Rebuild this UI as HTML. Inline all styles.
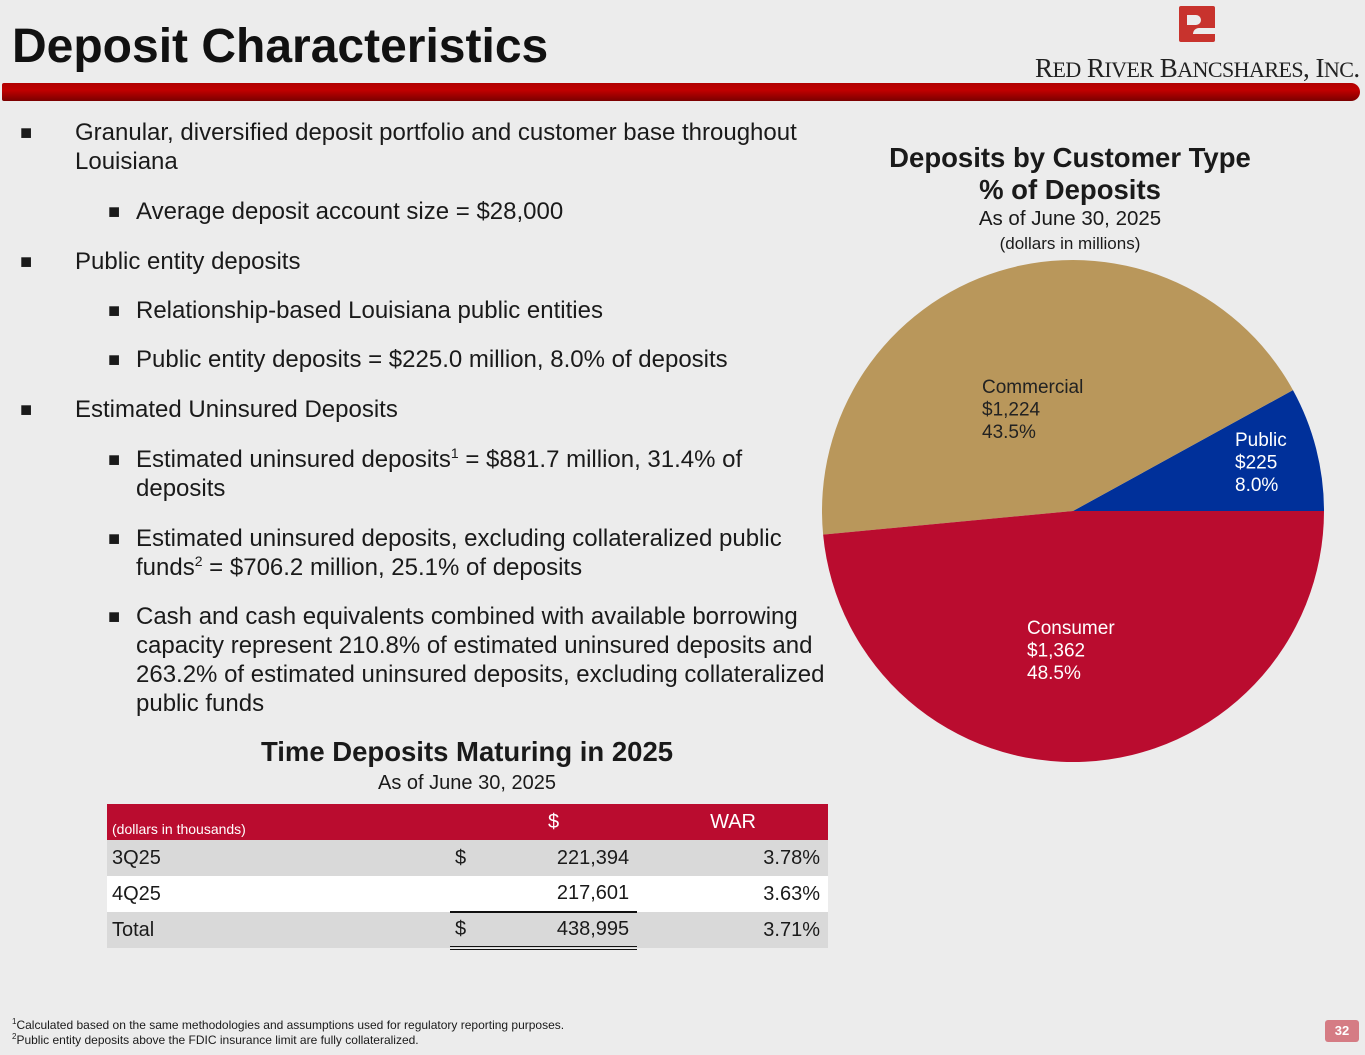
<!DOCTYPE html>
<html><head><meta charset="utf-8"><style>
body{margin:0;width:1365px;height:1055px;background:#ececec;font-family:"Liberation Sans",Arial,sans-serif;position:relative;overflow:hidden;color:#1a1a1a}
.a{position:absolute;white-space:nowrap}
.t{font-size:24px;line-height:26px}
td{padding:0 8px 0 5px;font-size:20px;height:36px;box-sizing:border-box}
</style></head><body>
<div class="a" style="left:12px;top:19px;font-size:48px;font-weight:bold;color:#111">Deposit Characteristics</div>
<div class="a" style="left:1179px;top:6px;width:36px;height:36px;background:#c8332d;border-radius:2px"><div style="position:absolute;left:8px;top:9px;width:14px;height:10px;background:#ececec;border-radius:0 6px 6px 0"></div><div style="position:absolute;left:14px;top:22px;width:22px;height:6px;background:#ececec;border-radius:6px 0 0 0"></div></div>
<div class="a" style="left:1035px;top:53px;font-family:'Liberation Serif',serif;font-size:27px;color:#222;letter-spacing:-0.55px">R<span style="font-size:22px">ED</span> R<span style="font-size:22px">IVER</span> B<span style="font-size:22px">ANCSHARES</span>, I<span style="font-size:22px">NC</span>.</div>
<div class="a" style="left:2px;top:83px;width:1358px;height:18px;background:linear-gradient(#b00000,#c00000 40%,#7a0000);border-radius:2px 9px 9px 2px"></div>

<div>
<div class="a t" style="left:20px;top:120px;font-size:20px">■</div><div class="a t" style="left:75px;top:120px">Granular, diversified deposit portfolio and customer base throughout</div>
<div class="a t" style="left:75px;top:149px">Louisiana</div>
<div class="a t" style="left:108px;top:199px;font-size:20px">■</div><div class="a t" style="left:136px;top:199px">Average deposit account size = $28,000</div>
<div class="a t" style="left:20px;top:249px;font-size:20px">■</div><div class="a t" style="left:75px;top:249px">Public entity deposits</div>
<div class="a t" style="left:108px;top:298px;font-size:20px">■</div><div class="a t" style="left:136px;top:298px">Relationship-based Louisiana public entities</div>
<div class="a t" style="left:108px;top:347px;font-size:20px">■</div><div class="a t" style="left:136px;top:347px">Public entity deposits = $225.0 million, 8.0% of deposits</div>
<div class="a t" style="left:20px;top:397px;font-size:20px">■</div><div class="a t" style="left:75px;top:397px">Estimated Uninsured Deposits</div>
<div class="a t" style="left:108px;top:447px;font-size:20px">■</div><div class="a t" style="left:136px;top:447px">Estimated uninsured deposits<sup style="font-size:14px;line-height:0">1</sup> = $881.7 million, 31.4% of</div>
<div class="a t" style="left:136px;top:476px">deposits</div>
<div class="a t" style="left:108px;top:526px;font-size:20px">■</div><div class="a t" style="left:136px;top:526px">Estimated uninsured deposits, excluding collateralized public</div>
<div class="a t" style="left:136px;top:555px">funds<sup style="font-size:14px;line-height:0">2</sup> = $706.2 million, 25.1% of deposits</div>
<div class="a t" style="left:108px;top:604px;font-size:20px">■</div><div class="a t" style="left:136px;top:604px">Cash and cash equivalents combined with available borrowing</div>
<div class="a t" style="left:136px;top:633px">capacity represent 210.8% of estimated uninsured deposits and</div>
<div class="a t" style="left:136px;top:662px">263.2% of estimated uninsured deposits, excluding collateralized</div>
<div class="a t" style="left:136px;top:691px">public funds</div>
</div>

<div class="a" style="left:107px;width:720px;top:736px;text-align:center;font-size:27.5px;font-weight:bold">Time Deposits Maturing in 2025</div>
<div class="a" style="left:107px;width:720px;top:772px;text-align:center;font-size:20px">As of June 30, 2025</div>
<table class="a" style="left:107px;top:804px;width:721px;border-collapse:collapse">
<tr style="background:#ba0c2f;color:#fff"><td style="font-size:14px;vertical-align:bottom;padding-bottom:3px">(dollars in thousands)</td><td></td><td style="text-align:right;padding-right:78px">$</td><td style="text-align:right;padding-right:72px">WAR</td></tr>
<tr style="background:#d9d9d9"><td style="width:343px">3Q25</td><td style="width:10px">$</td><td style="text-align:right;width:163px">221,394</td><td style="text-align:right">3.78%</td></tr>
<tr style="background:#fff"><td>4Q25</td><td style="border-bottom:2px solid #111"></td><td style="text-align:right;border-bottom:2px solid #111">217,601</td><td style="text-align:right">3.63%</td></tr>
<tr style="background:#d9d9d9"><td>Total</td><td style="border-bottom:4px double #111">$</td><td style="text-align:right;border-bottom:4px double #111">438,995</td><td style="text-align:right">3.71%</td></tr>
</table>

<div class="a" style="left:870px;width:400px;top:142px;text-align:center;font-size:27.5px;font-weight:bold;line-height:32px">Deposits by Customer Type<br>% of Deposits</div>
<div class="a" style="left:870px;width:400px;top:207px;text-align:center;font-size:20.5px">As of June 30, 2025</div>
<div class="a" style="left:870px;width:400px;top:234px;text-align:center;font-size:17px">(dollars in millions)</div>
<svg id="pie" class="a" style="left:0;top:0" width="1365" height="1055"></svg>

<div class="a" style="left:12px;top:1017px;font-size:12px"><sup style="font-size:8px">1</sup>Calculated based on the same methodologies and assumptions used for regulatory reporting purposes.</div>
<div class="a" style="left:12px;top:1032px;font-size:12px"><sup style="font-size:8px">2</sup>Public entity deposits above the FDIC insurance limit are fully collateralized.</div>
<div class="a" style="left:1325px;top:1020px;width:34px;height:22px;background:#d57c84;color:#fff;font-size:13px;font-weight:bold;text-align:center;line-height:22px;border-radius:3px">32</div>

<script>
const categories=["Public","Commercial","Consumer"];
const amounts=["$225","$1,224","$1,362"];
const percents=[8.0,43.5,48.5];
const colors=["#00309a","#b9975b","#ba0c2f"];
const textColors=["#fff","#222","#fff"];
const labelPos=[[1235,440],[982,387],[1027,628]];
const svg=document.getElementById('pie');
const NS='http://www.w3.org/2000/svg';
const cx=1073,cy=511,r=251;
const total=percents.reduce((a,b)=>a+b,0);
let ang=0;
percents.forEach((p,i)=>{
  const a0=ang,a1=ang+p/total*2*Math.PI;ang=a1;
  const x0=cx+r*Math.cos(a0),y0=cy-r*Math.sin(a0),x1=cx+r*Math.cos(a1),y1=cy-r*Math.sin(a1);
  const path=document.createElementNS(NS,'path');
  path.setAttribute('d',`M${cx},${cy}L${x0},${y0}A${r},${r} 0 ${a1-a0>Math.PI?1:0} 0 ${x1},${y1}Z`);
  path.setAttribute('fill',colors[i]);
  
  
  svg.appendChild(path);
  const t=document.createElementNS(NS,'text');
  
  
  t.setAttribute('font-size','19');t.setAttribute('fill',textColors[i]);
  t.setAttribute('font-family','Liberation Sans, Arial, sans-serif');
  [categories[i],amounts[i],percents[i].toFixed(1)+'%'].forEach((s,k)=>{
    const ts=document.createElementNS(NS,'tspan');
    ts.setAttribute('x',labelPos[i][0]);ts.setAttribute('y',labelPos[i][1]+6+k*22.5);
    ts.textContent=s;t.appendChild(ts);
  });
  svg.appendChild(t);
});
</script>
</body></html>
